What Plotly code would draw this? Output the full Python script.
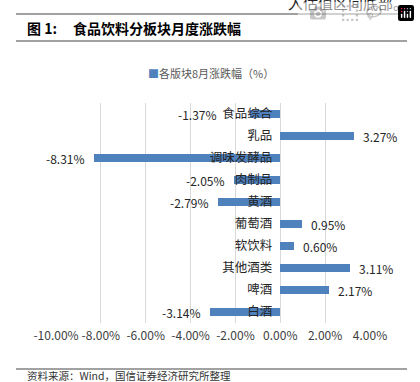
import plotly.graph_objects as go

categories = ["食品综合", "乳品", "调味发酵品", "肉制品", "黄酒", "葡萄酒", "软饮料", "其他酒类", "啤酒", "白酒"]
values = [-1.37, 3.27, -8.31, -2.05, -2.79, 0.95, 0.60, 3.11, 2.17, -3.14]
x_tick_vals = [-10, -8, -6, -4, -2, 0, 2, 4]
x_tick_text = ["-10.00%", "-8.00%", "-6.00%", "-4.00%", "-2.00%", "0.00%", "2.00%", "4.00%"]
series_name = "各版块8月涨跌幅（%）"

W, H = 420, 382
L, R, T, B = 56, 50, 103, 59
pw, ph = W - L - R, H - T - B
XMIN, XMAX = -10, 4

def px_x(p):
    return (p - L) / pw

def px_y(p):
    return (H - B - p) / ph

FONT = "Noto Sans CJK SC, Noto Sans, sans-serif"
BLUE = "#4F81BD"

fig = go.Figure()
fig.add_trace(go.Bar(
    y=categories, x=values, orientation="h", name=series_name,
    marker=dict(color=BLUE, line=dict(width=0)), width=0.36,
    showlegend=False,
))

annotations = []
# data labels
extra = {"食品综合": -24}
for c, v in zip(categories, values):
    label = f"{v:.2f}%"
    if v < 0:
        annotations.append(dict(x=v, y=c, xref="x", yref="y", text=label, showarrow=False,
                                xanchor="right", xshift=-7 + extra.get(c, 0),
                                font=dict(family=FONT, size=12, color="#262626")))
    else:
        annotations.append(dict(x=v, y=c, xref="x", yref="y", text=label, showarrow=False,
                                xanchor="left", xshift=7,
                                font=dict(family=FONT, size=12, color="#262626")))

# legend (series key)
annotations.append(dict(x=px_x(146), y=px_y(73), xref="paper", yref="paper",
                        text=f"<span style='color:{BLUE}'>■</span>{series_name}",
                        showarrow=False, xanchor="left", yanchor="middle",
                        font=dict(family=FONT, size=11, color="#595959")))

# header / footer texts
annotations.append(dict(x=px_x(410), y=px_y(3), xref="paper", yref="paper", text="入估值区间底部。",
                        showarrow=False, xanchor="right", yanchor="middle",
                        font=dict(family=FONT, size=15, color="#222")))
annotations.append(dict(x=px_x(25), y=px_y(28), xref="paper", yref="paper", text="<b>图 1:</b>",
                        showarrow=False, xanchor="left", yanchor="middle",
                        font=dict(family=FONT, size=14, color="#000")))
annotations.append(dict(x=px_x(71), y=px_y(28), xref="paper", yref="paper", text="<b>食品饮料分板块月度涨跌幅</b>",
                        showarrow=False, xanchor="left", yanchor="middle",
                        font=dict(family=FONT, size=14, color="#000")))
annotations.append(dict(x=px_x(25), y=px_y(375.5), xref="paper", yref="paper",
                        text="资料来源：Wind，国信证券经济研究所整理",
                        showarrow=False, xanchor="left", yanchor="middle",
                        font=dict(family=FONT, size=10.5, color="#333")))

shapes = []
for yy in (14, 41, 369):
    shapes.append(dict(type="line", xref="paper", yref="paper", x0=px_x(16), x1=px_x(407),
                       y0=px_y(yy), y1=px_y(yy), line=dict(color="#444", width=1)))

fig.update_layout(
    width=W, height=H, margin=dict(l=L, r=R, t=T, b=B),
    paper_bgcolor="white", plot_bgcolor="white",
    font=dict(family=FONT, size=12, color="#262626"),
    bargap=0, showlegend=False,
    xaxis=dict(range=[XMIN, XMAX], tickvals=x_tick_vals, ticktext=x_tick_text,
               showgrid=True, gridcolor="#D9D9D9", gridwidth=1, zeroline=False,
               showline=False, ticks="", tickfont=dict(size=12, color="#404040"),
               ticklabelstandoff=4, fixedrange=True),
    yaxis=dict(categoryorder="array", categoryarray=categories, autorange="reversed",
               anchor="free", position=(0 - XMIN) / (XMAX - XMIN),
               showgrid=False, zeroline=False, showline=False, ticks="",
               tickfont=dict(size=12.5, color="#262626"), ticklabelstandoff=8,
               fixedrange=True),
    annotations=annotations, shapes=shapes,
)

fig.write_html("out.html", post_script="document.body.style.margin='0';document.body.style.padding='0';")
